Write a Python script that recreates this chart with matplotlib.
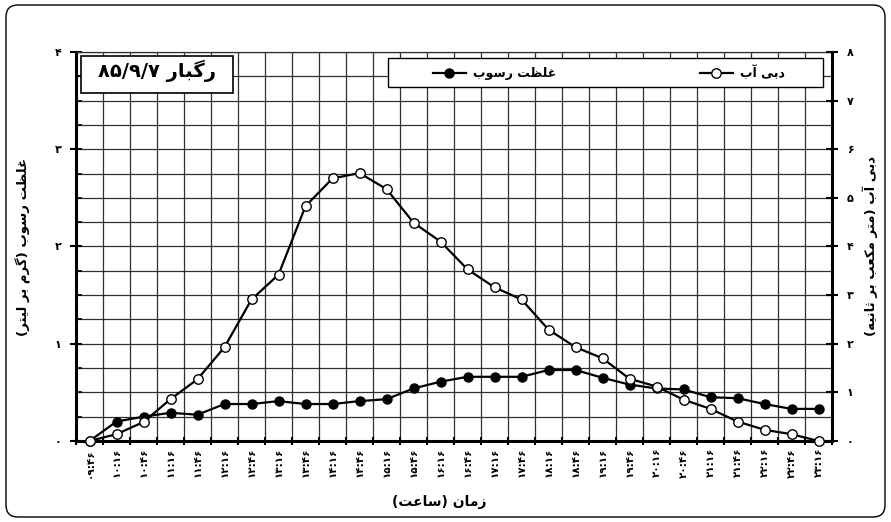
import re
import matplotlib
matplotlib.use('Agg')
import matplotlib.pyplot as plt
from matplotlib.patches import Rectangle, FancyBboxPatch
from matplotlib.lines import Line2D
from matplotlib.ticker import MultipleLocator, FixedLocator

# ---------------- data ----------------
times = ['۰۹:۴۶', '۱۰:۱۶', '۱۰:۴۶', '۱۱:۱۶', '۱۱:۴۶', '۱۲:۱۶', '۱۲:۴۶',
         '۱۳:۱۶', '۱۳:۴۶', '۱۴:۱۶', '۱۴:۴۶', '۱۵:۱۶', '۱۵:۴۶', '۱۶:۱۶',
         '۱۶:۴۶', '۱۷:۱۶', '۱۷:۴۶', '۱۸:۱۶', '۱۸:۴۶', '۱۹:۱۶', '۱۹:۴۶',
         '۲۰:۱۶', '۲۰:۴۶', '۲۱:۱۶', '۲۱:۴۶', '۲۲:۱۶', '۲۲:۴۶', '۲۳:۱۶']
sediment = [0.00, 0.20, 0.25, 0.29, 0.27, 0.38, 0.38, 0.41, 0.38, 0.38,
            0.41, 0.43, 0.54, 0.61, 0.66, 0.66, 0.66, 0.73, 0.73, 0.65,
            0.58, 0.54, 0.53, 0.45, 0.44, 0.38, 0.33, 0.33]
discharge = [0.00, 0.14, 0.39, 0.86, 1.27, 1.93, 2.91, 3.42, 4.83, 5.40,
             5.51, 5.18, 4.49, 4.10, 3.53, 3.16, 2.91, 2.29, 1.93, 1.70,
             1.28, 1.12, 0.85, 0.66, 0.40, 0.23, 0.14, 0.00]
left_ticks = ['۰', '۱', '۲', '۳', '۴']
right_ticks = ['۰', '۱', '۲', '۳', '۴', '۵', '۶', '۷', '۸']
title_text = 'رگبار ۸۵/۹/۷'
sediment_name = 'غلظت رسوب'
discharge_name = 'دبی آب'
left_label = 'غلظت رسوب (گرم بر لیتر)'
right_label = 'دبی آب (متر مکعب بر ثانیه)'
x_label = 'زمان (ساعت)'

# ------------- simple Persian shaping (matplotlib has no bidi/shaping) -------------
FORMS = {
    'ا': ('\uFE8D', '\uFE8E', None, None),
    'آ': ('\uFE81', '\uFE82', None, None),
    'ب': ('\uFE8F', '\uFE90', '\uFE91', '\uFE92'),
    'ت': ('\uFE95', '\uFE96', '\uFE97', '\uFE98'),
    'ث': ('\uFE99', '\uFE9A', '\uFE9B', '\uFE9C'),
    'د': ('\uFEA9', '\uFEAA', None, None),
    'ر': ('\uFEAD', '\uFEAE', None, None),
    'ز': ('\uFEAF', '\uFEB0', None, None),
    'س': ('\uFEB1', '\uFEB2', '\uFEB3', '\uFEB4'),
    'ظ': ('\uFEC5', '\uFEC6', '\uFEC7', '\uFEC8'),
    'ع': ('\uFEC9', '\uFECA', '\uFECB', '\uFECC'),
    'غ': ('\uFECD', '\uFECE', '\uFECF', '\uFED0'),
    'ل': ('\uFEDD', '\uFEDE', '\uFEDF', '\uFEE0'),
    'م': ('\uFEE1', '\uFEE2', '\uFEE3', '\uFEE4'),
    'ن': ('\uFEE5', '\uFEE6', '\uFEE7', '\uFEE8'),
    'ه': ('\uFEE9', '\uFEEA', '\uFEEB', '\uFEEC'),
    'و': ('\uFEED', '\uFEEE', None, None),
    'ی': ('\uFBFC', '\uFBFD', '\uFBFE', '\uFBFF'),
    'ک': ('\uFB8E', '\uFB8F', '\uFB90', '\uFB91'),
    'گ': ('\uFB92', '\uFB93', '\uFB94', '\uFB95'),
}


def shape(s):
    def dual(c):
        return c in FORMS and FORMS[c][2] is not None
    out = []
    for i, c in enumerate(s):
        if c not in FORMS:
            out.append(c)
            continue
        prev = s[i - 1] if i > 0 else ''
        nxt = s[i + 1] if i < len(s) - 1 else ''
        jp = dual(prev)
        jn = dual(c) and nxt in FORMS
        iso, fin, ini, med = FORMS[c]
        out.append(med if (jp and jn) else fin if jp else ini if jn else iso)
    vis = ''.join(out)[::-1]
    vis = re.sub(r'[0-9۰-۹/:.]+', lambda m: m.group(0)[::-1], vis)
    vis = vis.translate(str.maketrans({'(': ')', ')': '('}))
    return vis


plt.rcParams['font.family'] = ['DejaVu Sans']

fig = plt.figure(figsize=(8.91, 5.22), dpi=100)
fig.patch.set_facecolor('white')
fig.patches.append(FancyBboxPatch((0.06, 0.05), 8.79, 5.12,
                                  boxstyle='round,pad=0,rounding_size=0.12',
                                  transform=fig.dpi_scale_trans, fill=False,
                                  ec='black', lw=1.0))

ax = fig.add_axes([0.0853, 0.1552, 0.8485, 0.7452])
x = list(range(len(times)))
ax.set_xlim(-0.5, len(times) - 0.5)
ax.set_ylim(0, 4)

ax.set_xticks(x)
ax.set_xticklabels(times, rotation=90, fontsize=7.5, fontweight='bold')
ax.xaxis.set_minor_locator(FixedLocator([k - 0.5 for k in range(len(times) + 1)]))
ax.set_yticks(range(5))
ax.set_yticklabels(left_ticks, fontsize=8, fontweight='bold')
ax.yaxis.set_minor_locator(MultipleLocator(0.25))

ax.grid(which='minor', axis='x', color='#303030', lw=0.9)
ax.grid(which='both', axis='y', color='#303030', lw=0.9)
ax.grid(which='major', axis='x', visible=False)
ax.set_axisbelow(True)

ax.tick_params(axis='x', which='major', length=0, pad=5)
ax.tick_params(axis='x', which='minor', length=6, width=1.5, direction='inout')
ax.tick_params(axis='y', which='major', length=9, width=1.5, direction='inout', pad=6)
ax.tick_params(axis='y', which='minor', length=4, width=1.2, direction='in')

for side in ['left', 'bottom']:
    ax.spines[side].set_linewidth(2.2)
ax.spines['top'].set_linewidth(0.9)
ax.spines['top'].set_color('#303030')
ax.spines['right'].set_visible(False)

ax.plot(x, sediment, '-o', color='black', mfc='black', mec='black', ms=6.5,
        lw=1.6, clip_on=False, zorder=3)

ax2 = ax.twinx()
ax2.set_ylim(0, 8)
ax2.set_yticks(range(9))
ax2.set_yticklabels(right_ticks, fontsize=8, fontweight='bold')
ax2.tick_params(axis='y', which='major', length=9, width=1.5, direction='inout', pad=6)
ax2.spines['right'].set_linewidth(2.2)
for side in ['left', 'top', 'bottom']:
    ax2.spines[side].set_visible(False)

ax2.plot(x, discharge, '-o', color='black', mfc='white', mec='black', mew=1.0,
         ms=6.8, lw=1.6, clip_on=False, zorder=3)

# labels
ax.set_ylabel(shape(left_label), fontsize=9.5, fontweight='bold')
ax.yaxis.set_label_coords(-0.060, 0.5)
ax2.set_ylabel(shape(right_label), fontsize=9.5, fontweight='bold', rotation=90)
ax2.yaxis.set_label_coords(1.040, 0.5)
ax.set_xlabel(shape(x_label), fontsize=10, fontweight='bold')
ax.xaxis.set_label_coords(0.48, -0.139)

# title box
ax2.add_patch(Rectangle((0.0066, 0.8946), 0.2011, 0.0951, transform=ax2.transAxes,
                        fc='white', ec='black', lw=1.2, zorder=4, clip_on=False))
ax2.text(0.107, 0.9524, shape(title_text), transform=ax2.transAxes,
         ha='center', va='center', fontsize=14, fontweight='bold', zorder=5)

# legend box
ax2.add_patch(Rectangle((0.4127, 0.910), 0.5753, 0.0746, transform=ax2.transAxes,
                        fc='white', ec='black', lw=1.0, zorder=4, clip_on=False))
h_sed = Line2D([], [], color='black', marker='o', mfc='black', mec='black', ms=6.5, lw=1.6)
h_dis = Line2D([], [], color='black', marker='o', mfc='white', mec='black', mew=1.0, ms=6.8, lw=1.6)
leg = ax2.legend([h_sed, h_dis], [shape(sediment_name), shape(discharge_name)],
                 ncol=2, frameon=False, loc='center', bbox_to_anchor=(0.705, 0.947),
                 handlelength=2.6, handletextpad=0.6, columnspacing=11.5,
                 prop={'weight': 'bold', 'size': 9})
leg.set_zorder(6)

fig.savefig('out.png', dpi=100, facecolor='white')
